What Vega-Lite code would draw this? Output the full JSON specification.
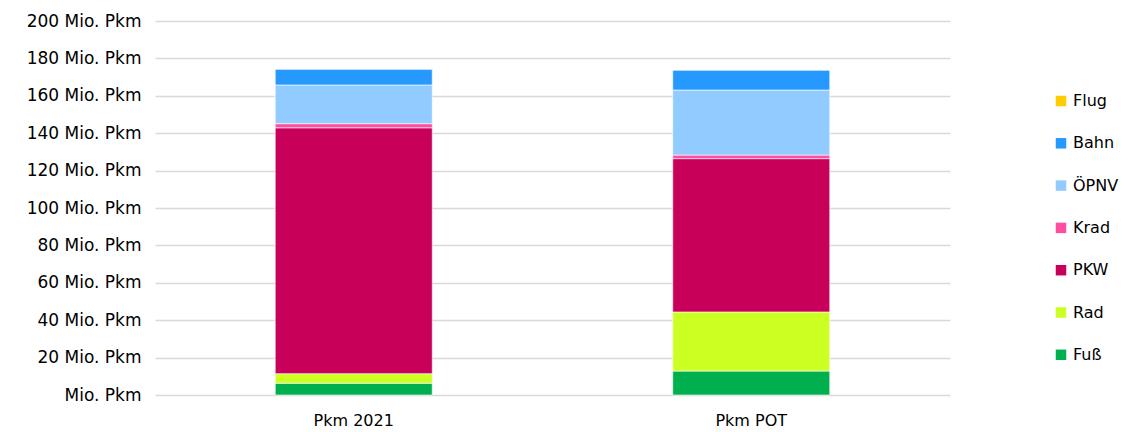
{
  "$schema": "https://vega.github.io/schema/vega-lite/v6.json",
  "autosize": "none",
  "width": 795,
  "height": 374,
  "padding": {"left": 155, "top": 21, "right": 181, "bottom": 37},
  "background": "white",
  "data": {
    "values": [
      {"kategorie": "Pkm 2021", "modus": "Fuß", "rang": 1, "wert": 6.3},
      {"kategorie": "Pkm 2021", "modus": "Rad", "rang": 2, "wert": 5.1},
      {"kategorie": "Pkm 2021", "modus": "PKW", "rang": 3, "wert": 131.5},
      {"kategorie": "Pkm 2021", "modus": "Krad", "rang": 4, "wert": 2.2},
      {"kategorie": "Pkm 2021", "modus": "ÖPNV", "rang": 5, "wert": 20.7},
      {"kategorie": "Pkm 2021", "modus": "Bahn", "rang": 6, "wert": 8.5},
      {"kategorie": "Pkm 2021", "modus": "Flug", "rang": 7, "wert": 0},
      {"kategorie": "Pkm POT", "modus": "Fuß", "rang": 1, "wert": 12.8},
      {"kategorie": "Pkm POT", "modus": "Rad", "rang": 2, "wert": 31.6},
      {"kategorie": "Pkm POT", "modus": "PKW", "rang": 3, "wert": 82.0},
      {"kategorie": "Pkm POT", "modus": "Krad", "rang": 4, "wert": 1.9},
      {"kategorie": "Pkm POT", "modus": "ÖPNV", "rang": 5, "wert": 34.8},
      {"kategorie": "Pkm POT", "modus": "Bahn", "rang": 6, "wert": 10.7},
      {"kategorie": "Pkm POT", "modus": "Flug", "rang": 7, "wert": 0}
    ]
  },
  "mark": {"type": "bar", "stroke": "white", "strokeWidth": 0.6},
  "encoding": {
    "x": {
      "field": "kategorie",
      "type": "nominal",
      "scale": {"paddingInner": 0.605, "paddingOuter": 0.3025},
      "axis": {
        "title": null,
        "labelAngle": 0,
        "labelFont": "DejaVu Sans",
        "labelFontSize": 16,
        "labelColor": "#000000",
        "labelPadding": 17,
        "ticks": false,
        "domain": false
      }
    },
    "y": {
      "field": "wert",
      "type": "quantitative",
      "stack": "zero",
      "scale": {"domain": [0, 200]},
      "axis": {
        "title": null,
        "values": [0, 20, 40, 60, 80, 100, 120, 140, 160, 180, 200],
        "labelOverlap": false,
        "labelExpr": "datum.value == 0 ? 'Mio. Pkm' : datum.label + ' Mio. Pkm'",
        "labelFont": "DejaVu Sans",
        "labelFontSize": 17,
        "labelColor": "#000000",
        "labelPadding": 14,
        "ticks": false,
        "domain": false,
        "gridColor": "#d9d9d9",
        "gridWidth": 1.5
      }
    },
    "order": {"field": "rang", "type": "quantitative", "sort": "ascending"},
    "color": {
      "field": "modus",
      "type": "nominal",
      "sort": ["Flug", "Bahn", "ÖPNV", "Krad", "PKW", "Rad", "Fuß"],
      "scale": {
        "domain": ["Flug", "Bahn", "ÖPNV", "Krad", "PKW", "Rad", "Fuß"],
        "range": ["#FFCC00", "#2699FF", "#92CBFF", "#FF4DA0", "#C8005A", "#CCFF22", "#00B04F"]
      },
      "legend": {
        "title": null,
        "orient": "none",
        "legendX": 898,
        "legendY": 72,
        "symbolType": "square",
        "symbolSize": 110,
        "symbolStrokeWidth": 0,
        "labelFont": "DejaVu Sans",
        "labelFontSize": 16,
        "labelColor": "#000000",
        "rowPadding": 26.3,
        "labelOffset": 4
      }
    }
  },
  "config": {"view": {"stroke": null}}
}
